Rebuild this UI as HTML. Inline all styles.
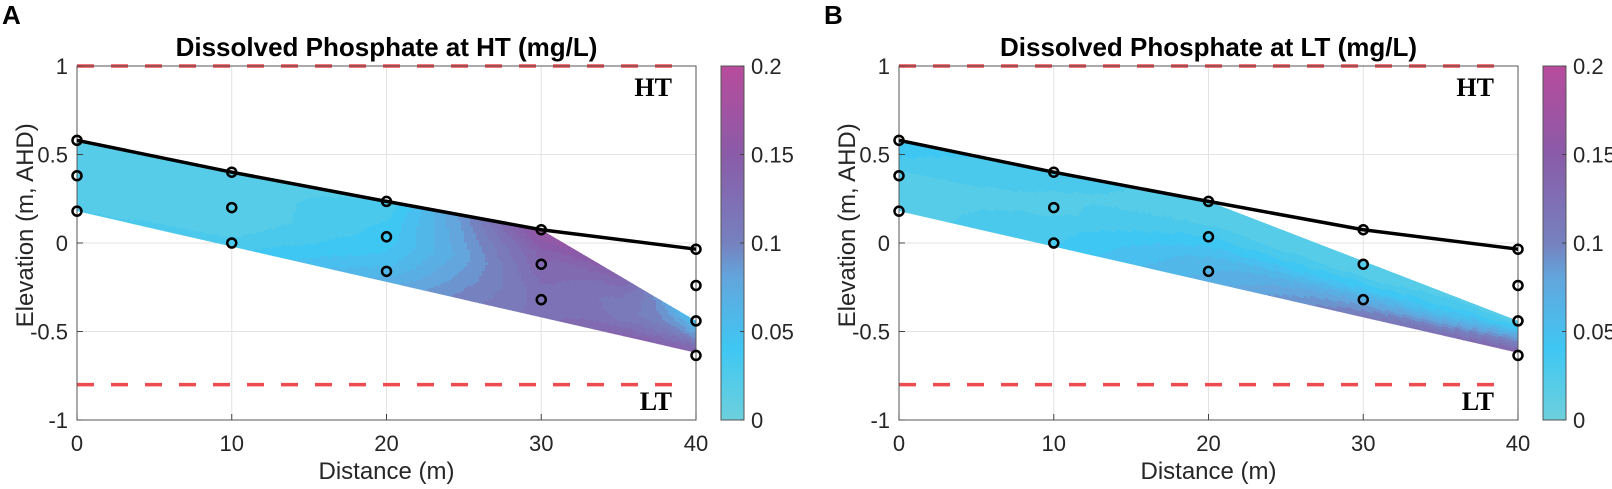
<!DOCTYPE html>
<html><head><meta charset="utf-8"><style>
html,body{margin:0;padding:0;background:#fff}
svg{display:block;font-family:"Liberation Sans",sans-serif}
</style></head><body>
<svg id="chart" width="1612" height="489" viewBox="0 0 1612 489" xmlns="http://www.w3.org/2000/svg">
<defs>
<linearGradient id="cbgrad" x1="0" y1="1" x2="0" y2="0">
<stop offset="0" stop-color="#6dd0dc"/><stop offset="0.2" stop-color="#3fc7f3"/>
<stop offset="0.4" stop-color="#62a6dd"/><stop offset="0.5" stop-color="#7681bf"/>
<stop offset="0.75" stop-color="#8a5ba8"/><stop offset="1" stop-color="#b84b9c"/>
</linearGradient>
</defs>
</svg>
<script>
// ---- data ----
const xTicks = [0, 10, 20, 30, 40];
const yTicks = [1, 0.5, 0, -0.5, -1];
const yTickLabels = ["1", "0.5", "0", "-0.5", "-1"];
const cbTicks = [0, 0.05, 0.1, 0.15, 0.2];
const cbTickLabels = ["0", "0.05", "0.1", "0.15", "0.2"];
const wtX = [0, 10, 20, 30, 40];
const wtY = [0.58, 0.40, 0.235, 0.075, -0.035];
const sampleX = [0, 0, 0, 10, 10, 10, 20, 20, 20, 30, 30, 30, 40, 40, 40, 40];
const sampleY = [0.58, 0.38, 0.18, 0.40, 0.20, 0.0, 0.235, 0.035, -0.16, 0.075, -0.12, -0.32, -0.035, -0.24, -0.44, -0.635];
const bottomX = [0, 40];
const bottomY = [0.18, -0.62];
const topAX = [0, 10, 20, 30, 40];
const topAY = [0.58, 0.40, 0.235, 0.075, -0.44];
const topBX = [0, 10, 20, 40];
const topBY = [0.58, 0.40, 0.235, -0.44];
const colX = [0, 10, 20, 25, 30, 35, 40];
const depthT = [0, 0.25, 0.5, 0.75, 1];
const concA = [
  [0.02, 0.02, 0.015, 0.018, 0.025],
  [0.02, 0.018, 0.015, 0.02, 0.03],
  [0.025, 0.035, 0.04, 0.05, 0.07],
  [0.09, 0.085, 0.08, 0.09, 0.1],
  [0.17, 0.14, 0.13, 0.12, 0.12],
  [0.14, 0.12, 0.11, 0.115, 0.14],
  [0.04, 0.07, 0.09, 0.12, 0.14]
];
const concB = [
  [0.04, 0.035, 0.022, 0.02, 0.02],
  [0.03, 0.025, 0.022, 0.03, 0.035],
  [0.02, 0.022, 0.04, 0.06, 0.07],
  [0.02, 0.022, 0.04, 0.07, 0.09],
  [0.02, 0.022, 0.045, 0.08, 0.11],
  [0.02, 0.03, 0.05, 0.09, 0.125],
  [0.02, 0.04, 0.08, 0.11, 0.14]
];
const hwY = 1, lwY = -0.8;

const NS = "http://www.w3.org/2000/svg";
const svg = document.getElementById("chart");
function mk(tag, attrs, parent) {
  const e = document.createElementNS(NS, tag);
  for (const k in attrs) e.setAttribute(k, attrs[k]);
  (parent || svg).appendChild(e);
  return e;
}
function interp(xs, ys, x) {
  if (x <= xs[0]) return ys[0];
  for (let i = 1; i < xs.length; i++) if (x <= xs[i]) {
    const t = (x - xs[i-1]) / (xs[i] - xs[i-1]); return ys[i-1] + t * (ys[i] - ys[i-1]);
  }
  return ys[ys.length - 1];
}
const stops = [[0,[109,208,220]],[0.04,[63,199,243]],[0.08,[98,166,221]],[0.1,[118,129,191]],[0.15,[138,91,168]],[0.2,[184,75,156]]];
function cmap(v) {
  v = Math.max(0, Math.min(0.2, v));
  v = Math.round(v / 0.01) * 0.01;
  for (let i = 1; i < stops.length; i++) if (v <= stops[i][0] + 1e-9) {
    const t = (v - stops[i-1][0]) / (stops[i][0] - stops[i-1][0]);
    const a = stops[i-1][1], b = stops[i][1];
    return "rgb(" + a.map((c, j) => Math.round(c + t * (b[j] - c))).join(",") + ")";
  }
  return "rgb(184,75,156)";
}

function panel(id, ox, letter, title, topX, topY, conc) {
  const L = ox + 77, R = ox + 696, T = 66, B = 420;
  const sx = x => L + (x - 0) / 40 * (R - L);
  const sy = y => T + (1 - y) / 2 * (B - T);
  const g = mk("g", {});
  
  
  xTicks.forEach(t => { const l = mk("line", {x1: sx(t), x2: sx(t), y1: T, y2: B, stroke: "#e3e3e3", "stroke-width": 1}, g);
      });
  yTicks.forEach(t => { const l = mk("line", {x1: L, x2: R, y1: sy(t), y2: sy(t), stroke: "#e3e3e3", "stroke-width": 1}, g);
      });
  const pts = [];
  for (let i = 0; i < topX.length; i++) pts.push(sx(topX[i]) + "," + sy(topY[i]));
  for (let i = bottomX.length - 1; i >= 0; i--) pts.push(sx(bottomX[i]) + "," + sy(bottomY[i]));
  const cp = mk("clipPath", {id: "clip" + id}, g);
  mk("polygon", {points: pts.join(" ")}, cp);
  const field = mk("g", {"clip-path": "url(#clip" + id + ")"}, g);
  
  
  const step = 3;
  for (let px = L; px < R; px += step) {
    const x = (px + step / 2 - L) / (R - L) * 40;
    const ty = interp(topX, topY, x), by = interp(bottomX, bottomY, x);
    const y0 = sy(ty), y1 = sy(by);
    for (let py = Math.floor(y0) - 2; py < y1 + 2; py += step) {
      const t = Math.max(0, Math.min(1, (py + step / 2 - y0) / (y1 - y0)));
      const vals = conc.map(c => interp(depthT, c, t));
      const v = interp(colX, vals, x);
      mk("rect", {x: px, y: py, width: step + 0.6, height: step + 0.6, fill: cmap(v)}, field);
    }
  }
  [[hwY, 'high-tide-line'], [lwY, 'low-tide-line']].forEach(([v, n]) => {
    const l = mk("line", {x1: L, x2: R - 13, y1: sy(v), y2: sy(v), stroke: "#ec4c4f", "stroke-width": 3.5, "stroke-dasharray": "17 17"}, g);
     
  });
  const box = mk("rect", {x: L, y: T, width: R - L, height: B - T, fill: "none", stroke: "#555", "stroke-width": 1}, g);
   
  xTicks.forEach(t => {
    mk("line", {x1: sx(t), x2: sx(t), y1: B, y2: B - 6, stroke: "#444"}, g);
    const tx = mk("text", {x: sx(t), y: 451, "font-size": 22, fill: "#262626", "text-anchor": "middle"}, g);
    tx.textContent = t;  
  });
  yTicks.forEach((t, i) => {
    mk("line", {x1: L, x2: L + 6, y1: sy(t), y2: sy(t), stroke: "#444"}, g);
    const tx = mk("text", {x: L - 9, y: sy(t) + 8, "font-size": 22, fill: "#262626", "text-anchor": "end"}, g);
    tx.textContent = yTickLabels[i];  
  });
  const xl = mk("text", {x: (L + R) / 2, y: 479, "font-size": 24, fill: "#262626", "text-anchor": "middle"}, g);
  xl.textContent = "Distance (m)";  
  const yl = mk("text", {x: 0, y: 0, "font-size": 24, fill: "#262626", "text-anchor": "middle", transform: "translate(" + (ox + 33) + "," + sy(0.1) + ") rotate(-90)"}, g);
  yl.textContent = "Elevation (m, AHD)";  
  const tt = mk("text", {x: (L + R) / 2, y: 56, "font-size": 26, "font-weight": "bold", fill: "#000", "text-anchor": "middle"}, g);
  tt.textContent = title;  
  const lt = mk("text", {x: ox + 2, y: 24, "font-size": 26, "font-weight": "bold", fill: "#000"}, g);
  lt.textContent = letter;  
  const ht = mk("text", {x: R - 24, y: 96, "font-size": 26, "font-weight": "bold", "font-family": "Liberation Serif, serif", "text-anchor": "end"}, g);
  ht.textContent = "HT";  
  const ltl = mk("text", {x: R - 24, y: 410, "font-size": 26, "font-weight": "bold", "font-family": "Liberation Serif, serif", "text-anchor": "end"}, g);
  ltl.textContent = "LT";  
  const wt = mk("polyline", {points: wtX.map((x, i) => sx(x) + "," + sy(wtY[i])).join(" "), fill: "none", stroke: "#000", "stroke-width": 3.5, "stroke-linejoin": "round"}, g);
   
  sampleX.forEach((x, i) => {
    const c = mk("circle", {cx: sx(x), cy: sy(sampleY[i]), r: 4.5, fill: "none", stroke: "#000", "stroke-width": 2.5}, g);
     
  });
  const cx0 = ox + 721, cw = 23;
  const cb = mk("rect", {x: cx0, y: T, width: cw, height: B - T, fill: "url(#cbgrad)", stroke: "#555", "stroke-width": 1}, g);
   
  cbTicks.forEach((t, i) => {
    const y = B - t / 0.2 * (B - T);
    mk("line", {x1: cx0 + cw - 4, x2: cx0 + cw, y1: y, y2: y, stroke: "#444"}, g);
    const tx = mk("text", {x: cx0 + cw + 7, y: y + 8, "font-size": 22, fill: "#262626"}, g);
    tx.textContent = cbTickLabels[i];  
  });
}
panel("a", 0, "A", "Dissolved Phosphate at HT (mg/L)", topAX, topAY, concA);
panel("b", 822, "B", "Dissolved Phosphate at LT (mg/L)", topBX, topBY, concB);
</script>
</body></html>
